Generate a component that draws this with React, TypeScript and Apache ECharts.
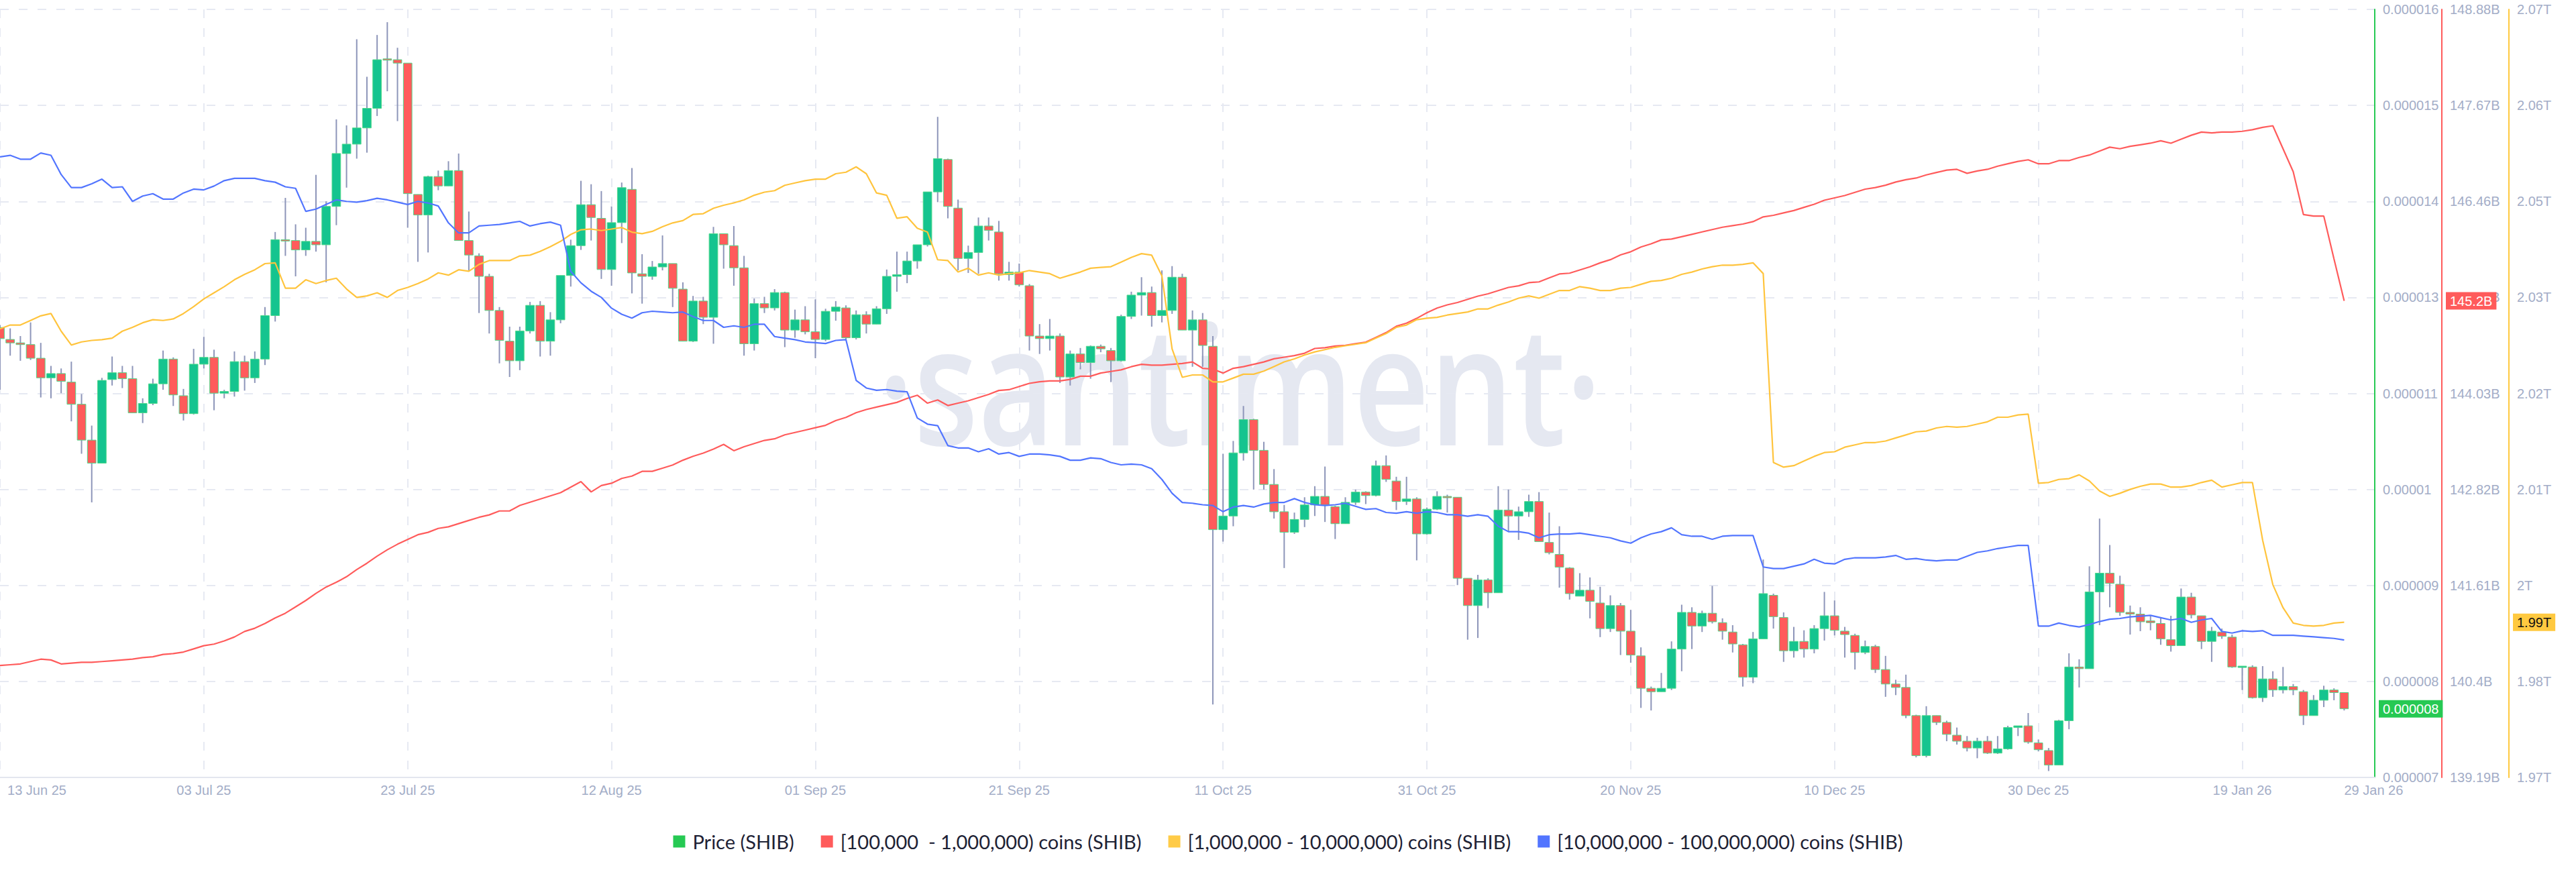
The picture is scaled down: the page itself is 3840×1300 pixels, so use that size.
import React, { useEffect, useRef } from 'react';
import * as echarts from 'echarts';

// ---------- categories (daily, 13 Jun 25 .. 01 Feb 26) ----------
const MONTHS = ['Jan', 'Feb', 'Mar', 'Apr', 'May', 'Jun', 'Jul', 'Aug', 'Sep', 'Oct', 'Nov', 'Dec'];
const START_UTC = Date.UTC(2025, 5, 13);
const N_DAYS_AXIS = 234;
const dates: string[] = Array.from({ length: N_DAYS_AXIS }, (_, i) => {
  const d = new Date(START_UTC + i * 86400000);
  return `${String(d.getUTCDate()).padStart(2, '0')} ${MONTHS[d.getUTCMonth()]} ${String(d.getUTCFullYear()).slice(2)}`;
});
const LABEL_EVERY = 20;
const LAST_INDEX = 230;

// ---------- Price (SHIB) daily candles, [open, close, low, high] in 1e-6 USD ----------
const priceOCLH_e6: number[][] = [
  [12.27, 12.14, 11.54, 12.30], [12.13, 12.09, 11.94, 12.26], [12.09, 12.07, 11.88, 12.17], [12.07, 11.91, 11.89, 12.33], [11.91, 11.68, 11.45, 12.09],
  [11.68, 11.73, 11.44, 11.82], [11.73, 11.64, 11.50, 11.79], [11.63, 11.37, 11.17, 11.87], [11.37, 10.95, 10.79, 11.49], [10.95, 10.68, 10.22, 11.12],
  [10.68, 11.65, 10.68, 11.68], [11.66, 11.74, 11.59, 11.93], [11.74, 11.67, 11.56, 11.82], [11.67, 11.27, 11.27, 11.82], [11.27, 11.38, 11.15, 11.44],
  [11.38, 11.61, 11.36, 11.67], [11.61, 11.90, 11.54, 12.00], [11.90, 11.48, 11.35, 11.92], [11.47, 11.26, 11.18, 11.55], [11.26, 11.84, 11.25, 12.02],
  [11.84, 11.92, 11.79, 12.16], [11.92, 11.50, 11.30, 12.01], [11.50, 11.52, 11.44, 11.54], [11.52, 11.87, 11.46, 11.99], [11.87, 11.68, 11.53, 11.94],
  [11.68, 11.90, 11.62, 11.99], [11.90, 12.41, 11.83, 12.51], [12.41, 13.30, 12.34, 13.39], [13.30, 13.29, 13.11, 13.79], [13.29, 13.18, 12.87, 13.48],
  [13.18, 13.28, 13.11, 13.44], [13.28, 13.24, 13.16, 14.06], [13.24, 13.69, 12.80, 13.75], [13.69, 14.31, 13.47, 14.71], [14.31, 14.42, 13.91, 14.64],
  [14.42, 14.61, 14.25, 15.65], [14.61, 14.84, 14.32, 15.21], [14.84, 15.41, 14.75, 15.70], [15.42, 15.41, 15.04, 15.85], [15.41, 15.37, 14.69, 15.55],
  [15.37, 13.84, 13.44, 15.37], [13.83, 13.59, 13.04, 13.83], [13.59, 14.04, 13.15, 14.05], [14.04, 13.93, 13.88, 14.11], [13.93, 14.11, 13.93, 14.22],
  [14.11, 13.29, 13.29, 14.31], [13.29, 13.12, 12.94, 13.63], [13.11, 12.87, 12.44, 13.14], [12.87, 12.47, 12.20, 12.90], [12.47, 12.12, 11.85, 12.51],
  [12.11, 11.88, 11.69, 12.28], [11.88, 12.23, 11.77, 12.28], [12.23, 12.53, 12.20, 12.57], [12.53, 12.11, 11.93, 12.58], [12.11, 12.36, 11.94, 12.45],
  [12.36, 12.88, 12.32, 12.88], [12.88, 13.23, 12.75, 13.30], [13.23, 13.71, 13.18, 13.99], [13.71, 13.56, 13.29, 13.95], [13.55, 12.95, 12.84, 13.87],
  [12.95, 13.50, 12.76, 13.69], [13.50, 13.91, 13.26, 13.97], [13.89, 12.91, 12.67, 14.14], [12.90, 12.87, 12.55, 13.13], [12.87, 12.98, 12.83, 13.05],
  [12.98, 13.02, 12.94, 13.35], [13.02, 12.73, 12.51, 13.02], [12.72, 12.11, 12.11, 12.80], [12.11, 12.58, 12.10, 12.64], [12.58, 12.39, 12.31, 12.63],
  [12.39, 13.37, 12.08, 13.45], [13.37, 13.24, 12.96, 13.37], [13.23, 12.97, 12.76, 13.46], [12.97, 12.08, 11.94, 13.11], [12.08, 12.55, 12.00, 12.61],
  [12.55, 12.50, 12.44, 12.63], [12.50, 12.68, 12.47, 12.72], [12.68, 12.24, 12.04, 12.69], [12.24, 12.36, 12.15, 12.48], [12.36, 12.22, 12.19, 12.52],
  [12.22, 12.13, 11.91, 12.60], [12.13, 12.46, 12.11, 12.49], [12.46, 12.51, 12.35, 12.58], [12.50, 12.15, 12.13, 12.53], [12.15, 12.42, 12.13, 12.47],
  [12.42, 12.31, 12.20, 12.46], [12.31, 12.49, 12.31, 12.52], [12.49, 12.87, 12.43, 12.95], [12.87, 12.89, 12.69, 13.16], [12.89, 13.05, 12.79, 13.16],
  [13.05, 13.24, 12.96, 13.24], [13.24, 13.86, 13.22, 13.86], [13.86, 14.25, 13.74, 14.74], [14.24, 13.69, 13.55, 14.25], [13.67, 13.08, 12.94, 13.77],
  [13.08, 13.15, 12.91, 13.23], [13.15, 13.46, 12.90, 13.56], [13.46, 13.41, 13.29, 13.56], [13.39, 12.90, 12.82, 13.52], [12.89, 12.92, 12.82, 13.04],
  [12.92, 12.77, 12.75, 13.02], [12.76, 12.17, 12.00, 12.78], [12.17, 12.14, 11.96, 12.31], [12.14, 12.17, 12.00, 12.37], [12.17, 11.69, 11.62, 12.20],
  [11.69, 11.96, 11.59, 12.00], [11.96, 11.86, 11.78, 12.03], [11.86, 12.05, 11.67, 12.06], [12.05, 12.02, 11.98, 12.07], [12.00, 11.88, 11.63, 12.03],
  [11.88, 12.40, 11.87, 12.42], [12.40, 12.65, 12.37, 12.69], [12.65, 12.68, 12.41, 12.86], [12.68, 12.41, 12.28, 12.75], [12.41, 12.47, 12.33, 12.94],
  [12.47, 12.86, 12.43, 12.99], [12.86, 12.24, 12.24, 12.90], [12.24, 12.36, 11.81, 12.47], [12.36, 12.06, 11.81, 12.44], [12.05, 9.90, 7.85, 12.17],
  [9.90, 10.06, 9.76, 10.79], [10.06, 10.80, 9.94, 10.94], [10.80, 11.19, 10.71, 11.35], [11.19, 10.83, 10.37, 11.20], [10.83, 10.43, 10.37, 10.93],
  [10.43, 10.11, 10.03, 10.61], [10.11, 9.87, 9.45, 10.19], [9.87, 10.02, 9.85, 10.10], [10.02, 10.19, 9.93, 10.28], [10.19, 10.29, 10.06, 10.41],
  [10.29, 10.19, 9.99, 10.64], [10.17, 9.97, 9.79, 10.18], [9.97, 10.22, 9.97, 10.28], [10.22, 10.34, 10.19, 10.37], [10.34, 10.30, 10.20, 10.35],
  [10.30, 10.65, 10.29, 10.71], [10.65, 10.49, 10.46, 10.77], [10.47, 10.23, 10.13, 10.52], [10.23, 10.26, 10.19, 10.52], [10.26, 9.85, 9.54, 10.28],
  [9.85, 10.14, 9.84, 10.16], [10.14, 10.29, 10.13, 10.35], [10.29, 10.28, 10.10, 10.31], [10.28, 9.33, 9.25, 10.28], [9.33, 9.01, 8.61, 9.33],
  [9.01, 9.31, 8.63, 9.37], [9.31, 9.16, 8.98, 9.33], [9.16, 10.13, 9.16, 10.41], [10.13, 10.06, 9.88, 10.37], [10.06, 10.11, 9.78, 10.17],
  [10.11, 10.23, 10.05, 10.31], [10.23, 9.76, 9.76, 10.34], [9.75, 9.63, 9.61, 10.10], [9.61, 9.46, 9.22, 9.94], [9.45, 9.15, 9.08, 9.46],
  [9.12, 9.19, 9.12, 9.39], [9.19, 9.06, 8.86, 9.34], [9.04, 8.74, 8.64, 9.23], [8.74, 9.01, 8.70, 9.13], [9.01, 8.71, 8.43, 9.04],
  [8.71, 8.43, 8.34, 8.96], [8.42, 8.04, 7.81, 8.52], [8.04, 8.00, 7.78, 8.06], [8.00, 8.04, 8.00, 8.22], [8.04, 8.50, 8.02, 8.59],
  [8.50, 8.93, 8.24, 9.02], [8.93, 8.77, 8.50, 8.99], [8.77, 8.92, 8.70, 8.95], [8.92, 8.82, 8.80, 9.24], [8.81, 8.71, 8.61, 8.86],
  [8.70, 8.56, 8.46, 8.78], [8.55, 8.17, 8.06, 8.56], [8.17, 8.62, 8.10, 8.70], [8.62, 9.15, 8.62, 9.55], [9.13, 8.88, 8.74, 9.15],
  [8.87, 8.48, 8.35, 8.93], [8.48, 8.59, 8.40, 8.76], [8.59, 8.50, 8.40, 8.72], [8.50, 8.74, 8.45, 8.78], [8.74, 8.89, 8.60, 9.17],
  [8.89, 8.72, 8.66, 9.07], [8.71, 8.67, 8.40, 8.76], [8.66, 8.46, 8.26, 8.68], [8.46, 8.53, 8.44, 8.60], [8.53, 8.26, 8.22, 8.55],
  [8.26, 8.09, 7.94, 8.42], [8.09, 8.05, 7.96, 8.14], [8.05, 7.72, 7.69, 8.20], [7.72, 7.25, 7.23, 7.73], [7.25, 7.72, 7.23, 7.83],
  [7.72, 7.64, 7.61, 7.72], [7.64, 7.50, 7.42, 7.66], [7.49, 7.42, 7.38, 7.58], [7.42, 7.34, 7.30, 7.48], [7.34, 7.42, 7.22, 7.46],
  [7.42, 7.28, 7.27, 7.48], [7.28, 7.33, 7.27, 7.48], [7.33, 7.58, 7.32, 7.60], [7.58, 7.60, 7.48, 7.60], [7.60, 7.41, 7.39, 7.75],
  [7.40, 7.32, 7.30, 7.44], [7.31, 7.14, 7.07, 7.34], [7.14, 7.66, 7.14, 7.67], [7.66, 8.29, 7.56, 8.45], [8.29, 8.27, 8.05, 8.38],
  [8.27, 9.17, 8.27, 9.47], [9.17, 9.39, 8.78, 10.03], [9.39, 9.27, 8.99, 9.72], [9.26, 8.93, 8.89, 9.36], [8.93, 8.91, 8.67, 9.01],
  [8.91, 8.82, 8.71, 8.99], [8.83, 8.81, 8.72, 8.89], [8.80, 8.62, 8.55, 8.86], [8.61, 8.54, 8.47, 8.89], [8.54, 9.11, 8.54, 9.21],
  [9.11, 8.90, 8.86, 9.16], [8.89, 8.59, 8.50, 8.89], [8.59, 8.71, 8.35, 8.76], [8.70, 8.65, 8.62, 8.74], [8.64, 8.29, 8.28, 8.67],
  [8.29, 8.30, 8.02, 8.30], [8.29, 7.93, 7.92, 8.31], [7.93, 8.15, 7.88, 8.30], [8.15, 8.02, 7.94, 8.24], [8.02, 8.06, 7.98, 8.29],
  [8.06, 8.02, 7.96, 8.09], [8.00, 7.72, 7.61, 8.02], [7.72, 7.90, 7.72, 7.96], [7.90, 8.02, 7.82, 8.07], [8.02, 7.99, 7.90, 8.04],
  [7.99, 7.80, 7.78, 7.99],
];

// ---------- [100,000 - 1,000,000) coins, supply held, billions SHIB ----------
const holders100kTo1M_B: number[] = [
  140.60, 140.61, 140.62, 140.65, 140.68, 140.67, 140.62, 140.63, 140.64, 140.64, 140.65, 140.66, 140.67, 140.68, 140.70, 140.71, 140.74, 140.75, 140.77, 140.81,
  140.85, 140.87, 140.91, 140.96, 141.03, 141.07, 141.13, 141.20, 141.26, 141.34, 141.42, 141.51, 141.59, 141.65, 141.72, 141.81, 141.89, 141.98, 142.06, 142.13,
  142.19, 142.25, 142.28, 142.33, 142.35, 142.39, 142.43, 142.47, 142.50, 142.55, 142.55, 142.62, 142.66, 142.70, 142.74, 142.78, 142.85, 142.92, 142.79, 142.87,
  142.90, 142.96, 142.99, 143.05, 143.05, 143.09, 143.13, 143.19, 143.24, 143.28, 143.33, 143.39, 143.31, 143.36, 143.40, 143.44, 143.46, 143.51, 143.54, 143.57,
  143.60, 143.63, 143.69, 143.73, 143.79, 143.83, 143.86, 143.89, 143.92, 143.97, 144.01, 143.91, 143.95, 143.88, 143.91, 143.94, 143.98, 144.02, 144.07, 144.08,
  144.12, 144.16, 144.18, 144.19, 144.19, 144.21, 144.25, 144.25, 144.29, 144.31, 144.33, 144.37, 144.40, 144.39, 144.39, 144.40, 144.41, 144.43, 144.35, 144.34,
  144.29, 144.35, 144.37, 144.40, 144.43, 144.47, 144.49, 144.51, 144.54, 144.60, 144.61, 144.63, 144.64, 144.66, 144.68, 144.74, 144.80, 144.88, 144.92, 144.98,
  145.05, 145.11, 145.15, 145.18, 145.22, 145.26, 145.29, 145.33, 145.37, 145.39, 145.43, 145.44, 145.49, 145.54, 145.55, 145.59, 145.63, 145.68, 145.72, 145.78,
  145.82, 145.88, 145.92, 145.97, 145.98, 146.01, 146.04, 146.07, 146.10, 146.13, 146.15, 146.17, 146.20, 146.26, 146.28, 146.31, 146.34, 146.38, 146.42, 146.47,
  146.50, 146.53, 146.57, 146.61, 146.63, 146.66, 146.70, 146.73, 146.75, 146.79, 146.82, 146.85, 146.86, 146.81, 146.84, 146.86, 146.90, 146.93, 146.96, 146.98,
  146.93, 146.93, 146.97, 146.97, 147.01, 147.04, 147.09, 147.14, 147.12, 147.15, 147.17, 147.19, 147.22, 147.19, 147.24, 147.29, 147.33, 147.32, 147.33, 147.33,
  147.34, 147.36, 147.39, 147.41, 147.12, 146.83, 146.29, 146.27, 146.27, 145.73, 145.20,
];

// ---------- [1,000,000 - 10,000,000) coins, supply held, trillions SHIB ----------
const holders1MTo10M_T: number[] = [
  2.0285, 2.0290, 2.0290, 2.0296, 2.0302, 2.0305, 2.0282, 2.0264, 2.0268, 2.0270, 2.0271, 2.0273, 2.0282, 2.0287, 2.0293, 2.0297, 2.0296, 2.0298, 2.0305, 2.0314,
  2.0324, 2.0332, 2.0340, 2.0349, 2.0356, 2.0362, 2.0370, 2.0371, 2.0338, 2.0338, 2.0349, 2.0344, 2.0348, 2.0351, 2.0337, 2.0326, 2.0328, 2.0332, 2.0326, 2.0335,
  2.0339, 2.0344, 2.0350, 2.0358, 2.0355, 2.0362, 2.0360, 2.0369, 2.0374, 2.0374, 2.0374, 2.0380, 2.0381, 2.0386, 2.0392, 2.0399, 2.0408, 2.0414, 2.0415, 2.0413,
  2.0415, 2.0417, 2.0411, 2.0409, 2.0412, 2.0418, 2.0423, 2.0426, 2.0434, 2.0435, 2.0442, 2.0446, 2.0449, 2.0453, 2.0459, 2.0463, 2.0465, 2.0472, 2.0475, 2.0478,
  2.0480, 2.0480, 2.0487, 2.0489, 2.0496, 2.0487, 2.0462, 2.0459, 2.0429, 2.0431, 2.0416, 2.0411, 2.0375, 2.0374, 2.0359, 2.0364, 2.0355, 2.0358, 2.0355, 2.0357,
  2.0358, 2.0361, 2.0359, 2.0357, 2.0351, 2.0355, 2.0359, 2.0364, 2.0365, 2.0366, 2.0372, 2.0378, 2.0383, 2.0381, 2.0354, 2.0259, 2.0222, 2.0225, 2.0225, 2.0216,
  2.0216, 2.0221, 2.0226, 2.0226, 2.0230, 2.0236, 2.0242, 2.0246, 2.0251, 2.0255, 2.0258, 2.0261, 2.0263, 2.0265, 2.0267, 2.0273, 2.0279, 2.0287, 2.0290, 2.0297,
  2.0299, 2.0300, 2.0303, 2.0305, 2.0307, 2.0311, 2.0311, 2.0316, 2.0320, 2.0325, 2.0328, 2.0325, 2.0330, 2.0335, 2.0335, 2.0340, 2.0338, 2.0335, 2.0335, 2.0338,
  2.0339, 2.0343, 2.0347, 2.0348, 2.0351, 2.0356, 2.0359, 2.0363, 2.0366, 2.0368, 2.0368, 2.0369, 2.0371, 2.0357, 2.0111, 2.0105, 2.0107, 2.0113, 2.0119, 2.0124,
  2.0125, 2.0131, 2.0134, 2.0137, 2.0137, 2.0139, 2.0143, 2.0147, 2.0151, 2.0152, 2.0156, 2.0158, 2.0157, 2.0158, 2.0161, 2.0164, 2.0170, 2.0170, 2.0173, 2.0174,
  2.0084, 2.0085, 2.0089, 2.0090, 2.0095, 2.0087, 2.0074, 2.0067, 2.0071, 2.0076, 2.0080, 2.0083, 2.0083, 2.0079, 2.0079, 2.0081, 2.0085, 2.0088, 2.0079, 2.0082,
  2.0085, 2.0085, 2.0010, 1.9952, 1.9922, 1.9902, 1.9899, 1.9898, 1.9899, 1.9902, 1.9903,
];

// ---------- [10,000,000 - 100,000,000) coins (no axis shown: relative position, 0-100) ----------
const holders10MTo100M_rel: number[] = [
  80.8, 81.0, 80.5, 80.5, 81.3, 81.0, 78.5, 76.8, 76.8, 77.3, 77.9, 76.8, 76.9, 75.0, 75.7, 76.0, 75.3, 75.3, 76.1, 76.6,
  76.5, 77.0, 77.7, 78.0, 78.0, 78.0, 77.7, 77.5, 76.9, 76.7, 73.7, 74.0, 74.6, 75.2, 75.0, 74.9, 75.1, 75.4, 75.2, 74.9,
  74.6, 75.0, 74.8, 74.4, 72.2, 70.9, 70.9, 71.8, 71.9, 72.0, 72.2, 72.4, 71.8, 72.1, 72.3, 71.9, 65.9, 64.4, 63.3, 62.5,
  61.1, 60.3, 59.8, 60.5, 60.7, 60.6, 60.5, 60.6, 60.0, 59.5, 59.5, 58.6, 58.8, 58.6, 59.0, 59.0, 57.4, 57.2, 57.0, 56.7,
  56.6, 56.5, 56.9, 57.0, 51.7, 50.7, 50.4, 50.5, 50.3, 50.2, 46.8, 46.0, 45.8, 43.2, 42.9, 42.9, 42.4, 42.8, 42.1, 42.3,
  41.8, 42.1, 42.1, 42.0, 41.8, 41.3, 41.3, 41.6, 41.5, 41.0, 40.7, 40.8, 40.7, 40.2, 38.8, 37.0, 35.8, 35.7, 35.5, 35.4,
  34.6, 35.2, 35.4, 35.2, 35.6, 35.8, 35.8, 36.3, 35.8, 35.5, 35.4, 35.5, 35.7, 35.3, 34.9, 35.0, 34.5, 34.4, 34.6, 34.4,
  34.6, 34.5, 34.2, 34.2, 34.0, 34.2, 34.0, 32.7, 32.0, 32.0, 31.8, 31.2, 31.6, 31.7, 31.7, 31.8, 31.6, 31.4, 31.2, 30.8,
  30.5, 31.2, 31.7, 32.0, 32.5, 31.6, 31.4, 31.4, 31.0, 31.4, 31.5, 31.5, 31.5, 27.4, 27.2, 27.2, 27.5, 27.8, 28.4, 27.9,
  27.8, 28.4, 28.6, 28.6, 28.6, 28.7, 28.9, 28.4, 28.5, 28.3, 28.2, 28.3, 28.3, 28.8, 29.3, 29.5, 29.8, 30.0, 30.2, 30.2,
  19.7, 19.7, 20.1, 19.8, 19.6, 19.9, 20.3, 20.6, 20.7, 20.9, 21.0, 21.1, 20.8, 20.5, 20.7, 20.2, 20.5, 20.7, 19.0, 18.8,
  19.1, 19.0, 19.1, 18.5, 18.5, 18.5, 18.4, 18.3, 18.2, 18.1, 17.9,
];

// ---------- series names ----------
const NAME_PRICE = 'Price (SHIB)';
const NAME_RED = '[100,000  - 1,000,000) coins (SHIB)';
const NAME_YELLOW = '[1,000,000 - 10,000,000) coins (SHIB)';
const NAME_BLUE = '[10,000,000 - 100,000,000) coins (SHIB)';

// ---------- axis ranges ----------
const PRICE_RANGE = [6.995e-6, 16e-6];
const RED_RANGE = [139.188e9, 148.878e9];
const YELLOW_RANGE = [1.9701e12, 2.0701e12];
const SPLITS = 8;

const ticksOf = (r: number[]) =>
  Array.from({ length: SPLITS + 1 }, (_, i) => (i === SPLITS ? r[1] : r[0] + (i * (r[1] - r[0])) / SPLITS));

const fmtPrice = (v: number) => String(parseFloat(v.toFixed(6)));
const fmtB = (v: number) => `${parseFloat((v / 1e9).toFixed(2))}B`;
const fmtT = (v: number) => `${parseFloat((v / 1e12).toFixed(2))}T`;

const C_GREEN = '#26c953';
const C_RED = '#ff5b5b';
const C_YELLOW = '#ffc43d';
const C_BLUE = '#5275ff';
const C_UP = '#15c48f';
const C_DOWN = '#ff5b5b';
const C_WICK = '#8d95b9';
const C_BORDER = '#4fd88a';
const C_LABEL = '#a3adc7';
const C_GRID = '#e6e9f2';
const FONT = '"Liberation Sans", Arial, sans-serif';

function buildOption() {
  const candleData = priceOCLH_e6.map((c, i) => [i, c[0] * 1e-6, c[1] * 1e-6, c[2] * 1e-6, c[3] * 1e-6]);
  const redData = holders100kTo1M_B.map((v) => v * 1e9);
  const yellowData = holders1MTo10M_T.map((v) => v * 1e12);
  const lastClose = candleData[candleData.length - 1][2];
  const lastRed = redData[redData.length - 1];
  const lastYellow = yellowData[yellowData.length - 1];

  const axisLabelBase = { color: C_LABEL, fontSize: 20, fontFamily: FONT, margin: 12 };

  const endMarker = (value: number, bg: string, fg: string, dist: number, fmt: (v: number) => string) => ({
    silent: true,
    precision: 14,
    symbol: ['none', 'none'],
    lineStyle: { color: 'rgba(255,255,255,0)', width: 0, opacity: 1 },
    label: {
      show: true,
      position: 'end',
      distance: dist,
      formatter: (p: any) => fmt(p.value),
      backgroundColor: bg,
      color: fg,
      opacity: 1,
      fontSize: 20,
      fontFamily: FONT,
      padding: [3, 6, 3, 6],
    },
    emphasis: { disabled: true },
    data: [{ yAxis: value }],
  });

  return {
    animation: false,
    backgroundColor: '#ffffff',
    textStyle: { fontFamily: FONT },
    grid: { left: 0, right: 300, top: 14, bottom: 141, containLabel: false },
    graphic: [
      {
        type: 'text',
        x: 1848,
        y: 568,
        scaleX: 0.8,
        z: -1,
        silent: true,
        style: {
          text: '·santiment·',
          font: '600 246px "Open Sans"',
          fill: '#e5e8f1',
          align: 'center',
          verticalAlign: 'middle',
        },
      },
    ],
    legend: {
      top: 1235,
      left: 'center',
      icon: 'rect',
      itemWidth: 18,
      itemHeight: 18,
      itemGap: 40,
      selectedMode: false,
      textStyle: { fontSize: 29, fontFamily: 'Lato', color: '#1e2235', padding: [0, 0, 0, 6] },
      data: [
        { name: NAME_PRICE, itemStyle: { color: C_GREEN } },
        { name: NAME_RED, itemStyle: { color: C_RED } },
        { name: NAME_YELLOW, itemStyle: { color: '#ffcb47' } },
        { name: NAME_BLUE, itemStyle: { color: C_BLUE } },
      ],
    },
    xAxis: {
      type: 'category',
      data: dates,
      boundaryGap: false,
      axisLine: { show: true, lineStyle: { color: '#e3e6ef', width: 2 } },
      axisTick: { show: false },
      axisLabel: {
        ...axisLabelBase,
        margin: 9,
        interval: (i: number) => i % LABEL_EVERY === 0 || i === LAST_INDEX,
        formatter: (v: string, i: number) => (i === 0 ? `{first|${v}}` : i === LAST_INDEX ? `{last|${v}}` : v),
        rich: {
          first: { padding: [0, 0, 0, 110], color: C_LABEL, fontSize: 20, fontFamily: FONT },
          last: { padding: [0, 0, 0, 88], color: C_LABEL, fontSize: 20, fontFamily: FONT },
        },
      },
      splitLine: {
        show: true,
        interval: (i: number) => i % LABEL_EVERY === 0 && i < LAST_INDEX,
        lineStyle: { color: C_GRID, width: 2, type: [13, 15] },
      },
    },
    yAxis: [
      {
        type: 'value',
        position: 'right',
        min: PRICE_RANGE[0],
        max: PRICE_RANGE[1],
        axisLine: { show: true, onZero: false, lineStyle: { color: C_GREEN, width: 2 } },
        axisTick: { show: false, customValues: ticksOf(PRICE_RANGE) },
        axisLabel: { ...axisLabelBase, customValues: ticksOf(PRICE_RANGE), formatter: fmtPrice },
        splitLine: { show: true, lineStyle: { color: C_GRID, width: 2, type: [13, 15] } },
      },
      {
        type: 'value',
        position: 'right',
        offset: 100,
        min: RED_RANGE[0],
        max: RED_RANGE[1],
        axisLine: { show: true, onZero: false, lineStyle: { color: C_RED, width: 2 } },
        axisTick: { show: false, customValues: ticksOf(RED_RANGE) },
        axisLabel: { ...axisLabelBase, customValues: ticksOf(RED_RANGE), formatter: fmtB },
        splitLine: { show: false },
      },
      {
        type: 'value',
        position: 'right',
        offset: 200,
        min: YELLOW_RANGE[0],
        max: YELLOW_RANGE[1],
        axisLine: { show: true, onZero: false, lineStyle: { color: '#ffc940', width: 2 } },
        axisTick: { show: false, customValues: ticksOf(YELLOW_RANGE) },
        axisLabel: { ...axisLabelBase, customValues: ticksOf(YELLOW_RANGE), formatter: fmtT },
        splitLine: { show: false },
      },
      { type: 'value', min: 0, max: 100, show: false, splitLine: { show: false } },
    ],
    series: [
      {
        name: NAME_PRICE,
        type: 'custom',
        xAxisIndex: 0,
        yAxisIndex: 0,
        clip: true,
        z: 2,
        itemStyle: { color: C_GREEN },
        encode: { x: 0, y: [1, 2, 3, 4] },
        data: candleData,
        renderItem: (params: any, api: any) => {
          const i = api.value(0);
          const o = api.value(1);
          const c = api.value(2);
          const l = api.value(3);
          const h = api.value(4);
          const po = api.coord([i, o]);
          const pc = api.coord([i, c]);
          const pl = api.coord([i, l]);
          const ph = api.coord([i, h]);
          const w = api.size([1, 0])[0] * 0.84;
          const top = Math.min(po[1], pc[1]);
          const ht = Math.max(Math.abs(po[1] - pc[1]), 2);
          return {
            type: 'group',
            children: [
              { type: 'line', shape: { x1: ph[0], y1: ph[1], x2: pl[0], y2: pl[1] }, style: { stroke: C_WICK, lineWidth: 2 } },
              {
                type: 'rect',
                shape: { x: po[0] - w / 2, y: top, width: w, height: ht },
                style: { fill: c >= o ? C_UP : C_DOWN, stroke: C_BORDER, lineWidth: 1 },
              },
            ],
          };
        },
        markLine: endMarker(lastClose, C_GREEN, '#ffffff', 6, fmtPrice),
      },
      {
        name: NAME_RED,
        type: 'line',
        yAxisIndex: 1,
        data: redData,
        symbol: 'none',
        z: 3,
        lineStyle: { color: C_RED, width: 2.2 },
        itemStyle: { color: C_RED },
        markLine: endMarker(lastRed, C_RED, '#ffffff', 106, fmtB),
      },
      {
        name: NAME_YELLOW,
        type: 'line',
        yAxisIndex: 2,
        data: yellowData,
        symbol: 'none',
        z: 3,
        lineStyle: { color: C_YELLOW, width: 2.2 },
        itemStyle: { color: C_YELLOW },
        markLine: endMarker(lastYellow, '#ffc940', '#111111', 206, fmtT),
      },
      {
        name: NAME_BLUE,
        type: 'line',
        yAxisIndex: 3,
        data: holders10MTo100M_rel,
        symbol: 'none',
        z: 3,
        lineStyle: { color: C_BLUE, width: 2.2 },
        itemStyle: { color: C_BLUE },
      },
    ],
  };
}

export default function App() {
  const ref = useRef<HTMLDivElement>(null);
  useEffect(() => {
    if (!ref.current) return;
    const chart = echarts.init(ref.current, undefined, { renderer: 'svg' });
    chart.setOption(buildOption() as any);
    return () => chart.dispose();
  }, []);
  return (
    <div
      ref={ref}
      style={{ position: 'absolute', left: 0, top: 0, width: 3840, height: 1300, background: '#ffffff' }}
    />
  );
}
